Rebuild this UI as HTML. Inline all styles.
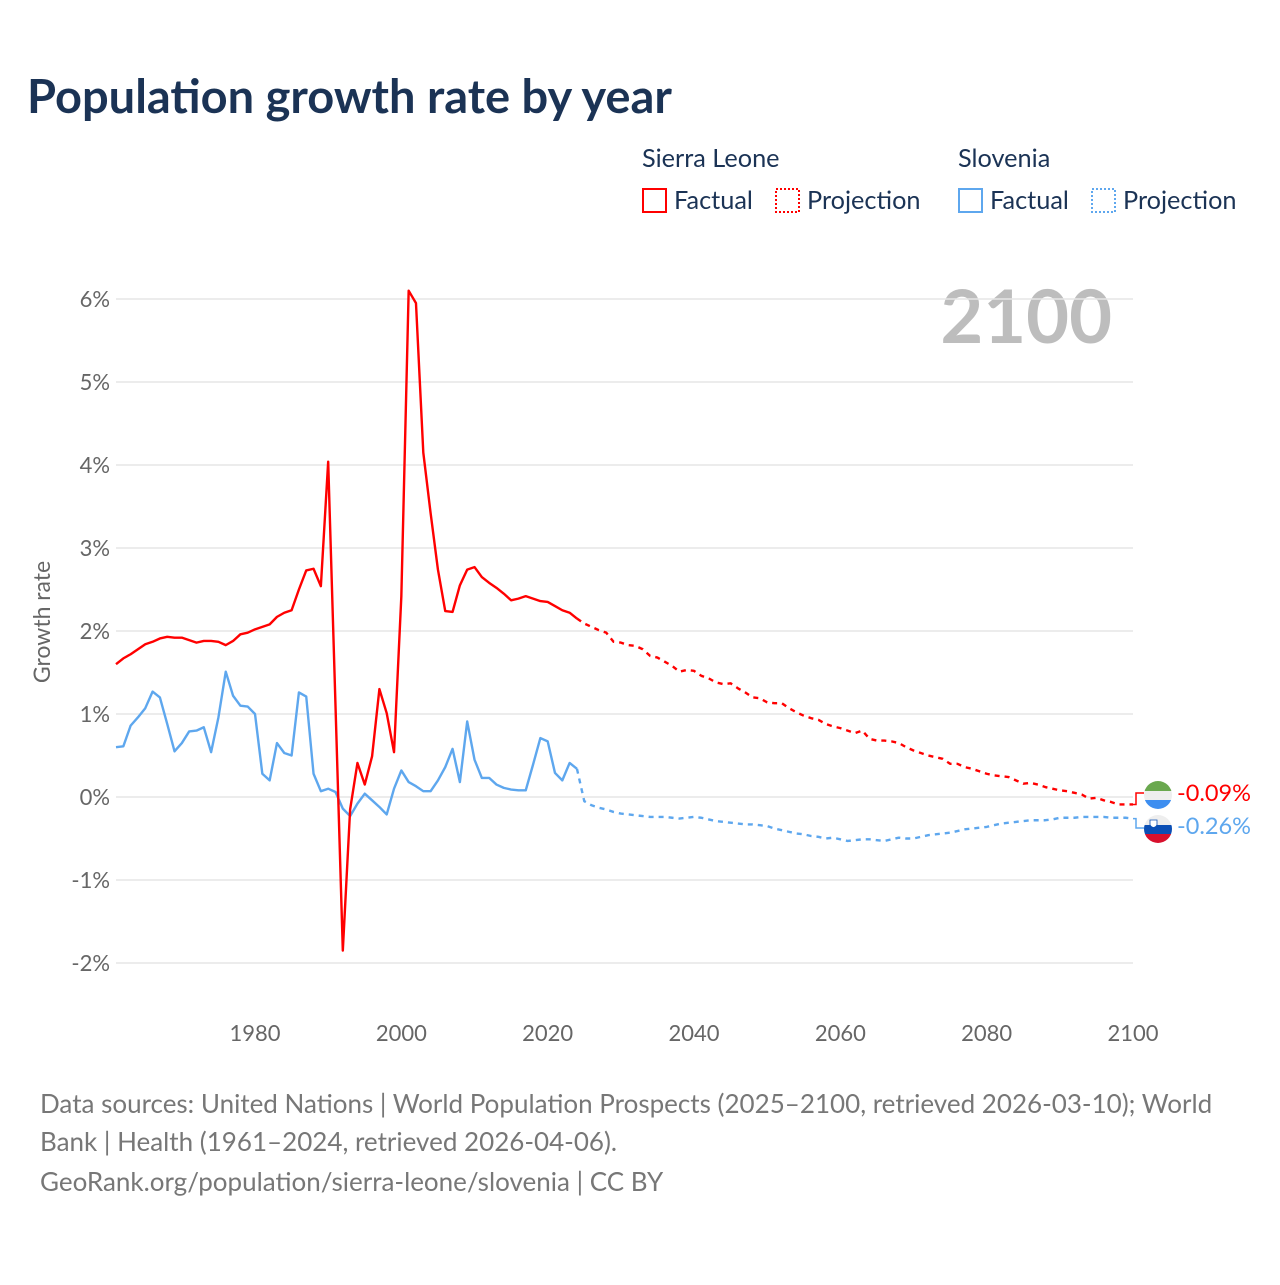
<!DOCTYPE html>
<html><head><meta charset="utf-8"><style>
body{margin:0;background:#fff;font-family:"Liberation Sans",sans-serif}
svg text{font-family:"Lato","Liberation Sans",sans-serif}
</style></head><body>
<svg id="chart" width="1280" height="1280" viewBox="0 0 1280 1280" xmlns="http://www.w3.org/2000/svg">
<rect width="1280" height="1280" fill="#fff"/>
<text x="27" y="113" font-size="47" font-weight="bold" fill="#1b3355">Population growth rate by year</text>
<g font-size="25.3" fill="#1b3355">
<text x="642" y="167">Sierra Leone</text>
<text x="958" y="167">Slovenia</text>
<g><rect x="643" y="189" width="23" height="23" fill="none" stroke="#ff0000" stroke-width="2"/><text x="674" y="209">Factual</text></g>
<g><rect x="776" y="189" width="23" height="23" fill="none" stroke="#ff0000" stroke-width="2" stroke-dasharray="2,2"/><text x="807" y="209">Projection</text></g>
<g><rect x="959" y="189" width="23" height="23" fill="none" stroke="#5ea7ee" stroke-width="2"/><text x="990" y="209">Factual</text></g>
<g><rect x="1092" y="189" width="23" height="23" fill="none" stroke="#5ea7ee" stroke-width="2" stroke-dasharray="2,2"/><text x="1123" y="209">Projection</text></g>
</g>
<text x="1112" y="343" font-size="74" font-weight="bold" fill="#bdbdbd" text-anchor="end">2100</text>
<text transform="translate(50,622) rotate(-90)" font-size="23" fill="#666" text-anchor="middle">Growth rate</text>
<g id="grid"></g><g id="yt"></g><g id="xt"></g><g id="series"></g>
<g font-size="26" fill="#777">
<text x="40" y="1113">Data sources: United Nations | World Population Prospects (2025–2100, retrieved 2026-03-10); World</text>
<text x="40" y="1151">Bank | Health (1961–2024, retrieved 2026-04-06).</text>
<text x="40" y="1191">GeoRank.org/population/sierra-leone/slovenia | CC BY</text>
</g>
</svg>
<script>
const yTicks=[-2,-1,0,1,2,3,4,5,6];
const xTicks=[1980,2000,2020,2040,2060,2080,2100];
const slFactual=[1.6,1.67,1.72,1.78,1.84,1.87,1.91,1.93,1.92,1.92,1.89,1.86,1.88,1.88,1.87,1.83,1.88,1.96,1.98,2.02,2.05,2.08,2.17,2.22,2.25,2.5,2.73,2.75,2.54,4.04,1.1,-1.85,-0.15,0.41,0.15,0.49,1.3,1.01,0.54,2.42,6.1,5.95,4.15,3.42,2.74,2.24,2.23,2.55,2.74,2.77,2.65,2.58,2.52,2.45,2.37,2.39,2.42,2.39,2.36,2.35,2.3,2.25,2.22,2.15];
const slProjection=[2.09,2.05,2.01,1.98,1.87,1.86,1.83,1.82,1.78,1.70,1.68,1.63,1.58,1.51,1.53,1.52,1.46,1.43,1.38,1.36,1.37,1.31,1.26,1.20,1.19,1.14,1.13,1.13,1.07,1.02,0.98,0.95,0.93,0.88,0.85,0.83,0.80,0.77,0.80,0.70,0.68,0.68,0.67,0.65,0.60,0.56,0.53,0.50,0.48,0.46,0.40,0.40,0.36,0.34,0.31,0.28,0.26,0.25,0.24,0.20,0.16,0.17,0.15,0.12,0.10,0.08,0.07,0.05,0.03,-0.02,-0.01,-0.04,-0.06,-0.09,-0.09,-0.09];
const siFactual=[0.60,0.61,0.86,0.96,1.07,1.27,1.2,0.88,0.55,0.65,0.79,0.80,0.84,0.54,0.96,1.51,1.22,1.10,1.09,1.0,0.28,0.2,0.65,0.53,0.5,1.26,1.21,0.28,0.07,0.1,0.06,-0.14,-0.23,-0.08,0.04,-0.04,-0.12,-0.21,0.1,0.32,0.18,0.13,0.07,0.07,0.2,0.36,0.58,0.18,0.91,0.45,0.23,0.23,0.15,0.11,0.09,0.08,0.08,0.39,0.71,0.67,0.29,0.2,0.41,0.34];
const siProjection=[-0.05,-0.1,-0.13,-0.15,-0.18,-0.2,-0.21,-0.22,-0.23,-0.24,-0.24,-0.24,-0.25,-0.26,-0.25,-0.24,-0.25,-0.27,-0.29,-0.30,-0.31,-0.32,-0.33,-0.33,-0.34,-0.35,-0.38,-0.40,-0.42,-0.44,-0.45,-0.47,-0.48,-0.50,-0.49,-0.51,-0.53,-0.52,-0.51,-0.51,-0.52,-0.53,-0.51,-0.49,-0.50,-0.50,-0.48,-0.46,-0.45,-0.44,-0.43,-0.41,-0.39,-0.38,-0.37,-0.36,-0.34,-0.32,-0.31,-0.30,-0.29,-0.28,-0.28,-0.28,-0.27,-0.25,-0.25,-0.25,-0.24,-0.24,-0.24,-0.24,-0.25,-0.25,-0.25,-0.26];
const startYear=1961, projStart=2025;
const NS="http://www.w3.org/2000/svg";
const X=y=>116+(y-1961)*(1133-116)/(2100-1961);
const Y=v=>797-v*83;
function mk(t,a,p){const e=document.createElementNS(NS,t);for(const k in a)e.setAttribute(k,a[k]);p.appendChild(e);return e;}
const grid=document.getElementById('grid'),yt=document.getElementById('yt'),xt=document.getElementById('xt'),ser=document.getElementById('series');
yTicks.forEach(v=>{
 const l=mk('line',{x1:116,x2:1133,y1:Y(v),y2:Y(v),stroke:'#e6e6e6','stroke-width':1.5},grid);
 
 
 const t=mk('text',{x:110,y:Y(v)+8,'font-size':22,fill:'#666','text-anchor':'end'},yt);
 t.textContent=v+'%';
 
 
});
xTicks.forEach(y=>{
 const t=mk('text',{x:X(y),y:1041,'font-size':22,fill:'#666','text-anchor':'middle'},xt);
 t.textContent=y;
 
 
});
function line(vals,y0,color,dash,name,prev){
 let pts=vals.map((v,i)=>X(y0+i)+','+Y(v));
 if(prev)pts.unshift(X(prev[0])+','+Y(prev[1]));
 const p=mk('polyline',{points:pts.join(' '),fill:'none',stroke:color,'stroke-width':2.4,'stroke-linejoin':'round'},ser);
 if(dash)p.setAttribute('stroke-dasharray','5,5');
 
 
}
line(siFactual,startYear,'#5ea7ee',false,'slovenia-factual-line');
line(siProjection,projStart,'#5ea7ee',true,'slovenia-projection-line',[2024,siFactual[siFactual.length-1]]);
line(slFactual,startYear,'#ff0000',false,'sierra-leone-factual-line');
line(slProjection,projStart,'#ff0000',true,'sierra-leone-projection-line',[2024,slFactual[slFactual.length-1]]);
const slEnd=slProjection[slProjection.length-1], siEnd=siProjection[siProjection.length-1];
const g=mk('g',{},ser);


mk('path',{d:`M1133 ${Y(slEnd)} H1136 V793 H1144`,fill:'none',stroke:'#ff0000','stroke-width':1.5},g);
mk('path',{d:`M1133 ${Y(siEnd)} H1136 V828 H1144`,fill:'none',stroke:'#5ea7ee','stroke-width':1.5},g);
g.insertAdjacentHTML('beforeend',`
<defs><clipPath id="c1"><circle cx="1158" cy="795" r="14"/></clipPath><clipPath id="c2"><circle cx="1158" cy="829" r="14"/></clipPath></defs>
<g clip-path="url(#c1)"><rect x="1144" y="781" width="28" height="10" fill="#6aa84f"/><rect x="1144" y="791" width="28" height="9" fill="#eee"/><rect x="1144" y="800" width="28" height="10" fill="#3d8ef0"/></g>
<g clip-path="url(#c2)"><rect x="1144" y="815" width="28" height="10" fill="#eee"/><rect x="1144" y="825" width="28" height="9" fill="#0b4fb5"/><rect x="1144" y="834" width="28" height="10" fill="#d8102d"/><path d="M1150 820 h7 v5 q-3.5 5 -7 0z" fill="#fff" stroke="#0b4fb5" stroke-width="0.8"/></g>`);
const t1=mk('text',{x:1177,y:801,'font-size':23.5,fill:'#ff0000'},g);t1.textContent=slEnd.toFixed(2)+'%';


const t2=mk('text',{x:1177,y:834,'font-size':23.5,fill:'#5ea7ee'},g);t2.textContent=siEnd.toFixed(2)+'%';


</script>
</body></html>
